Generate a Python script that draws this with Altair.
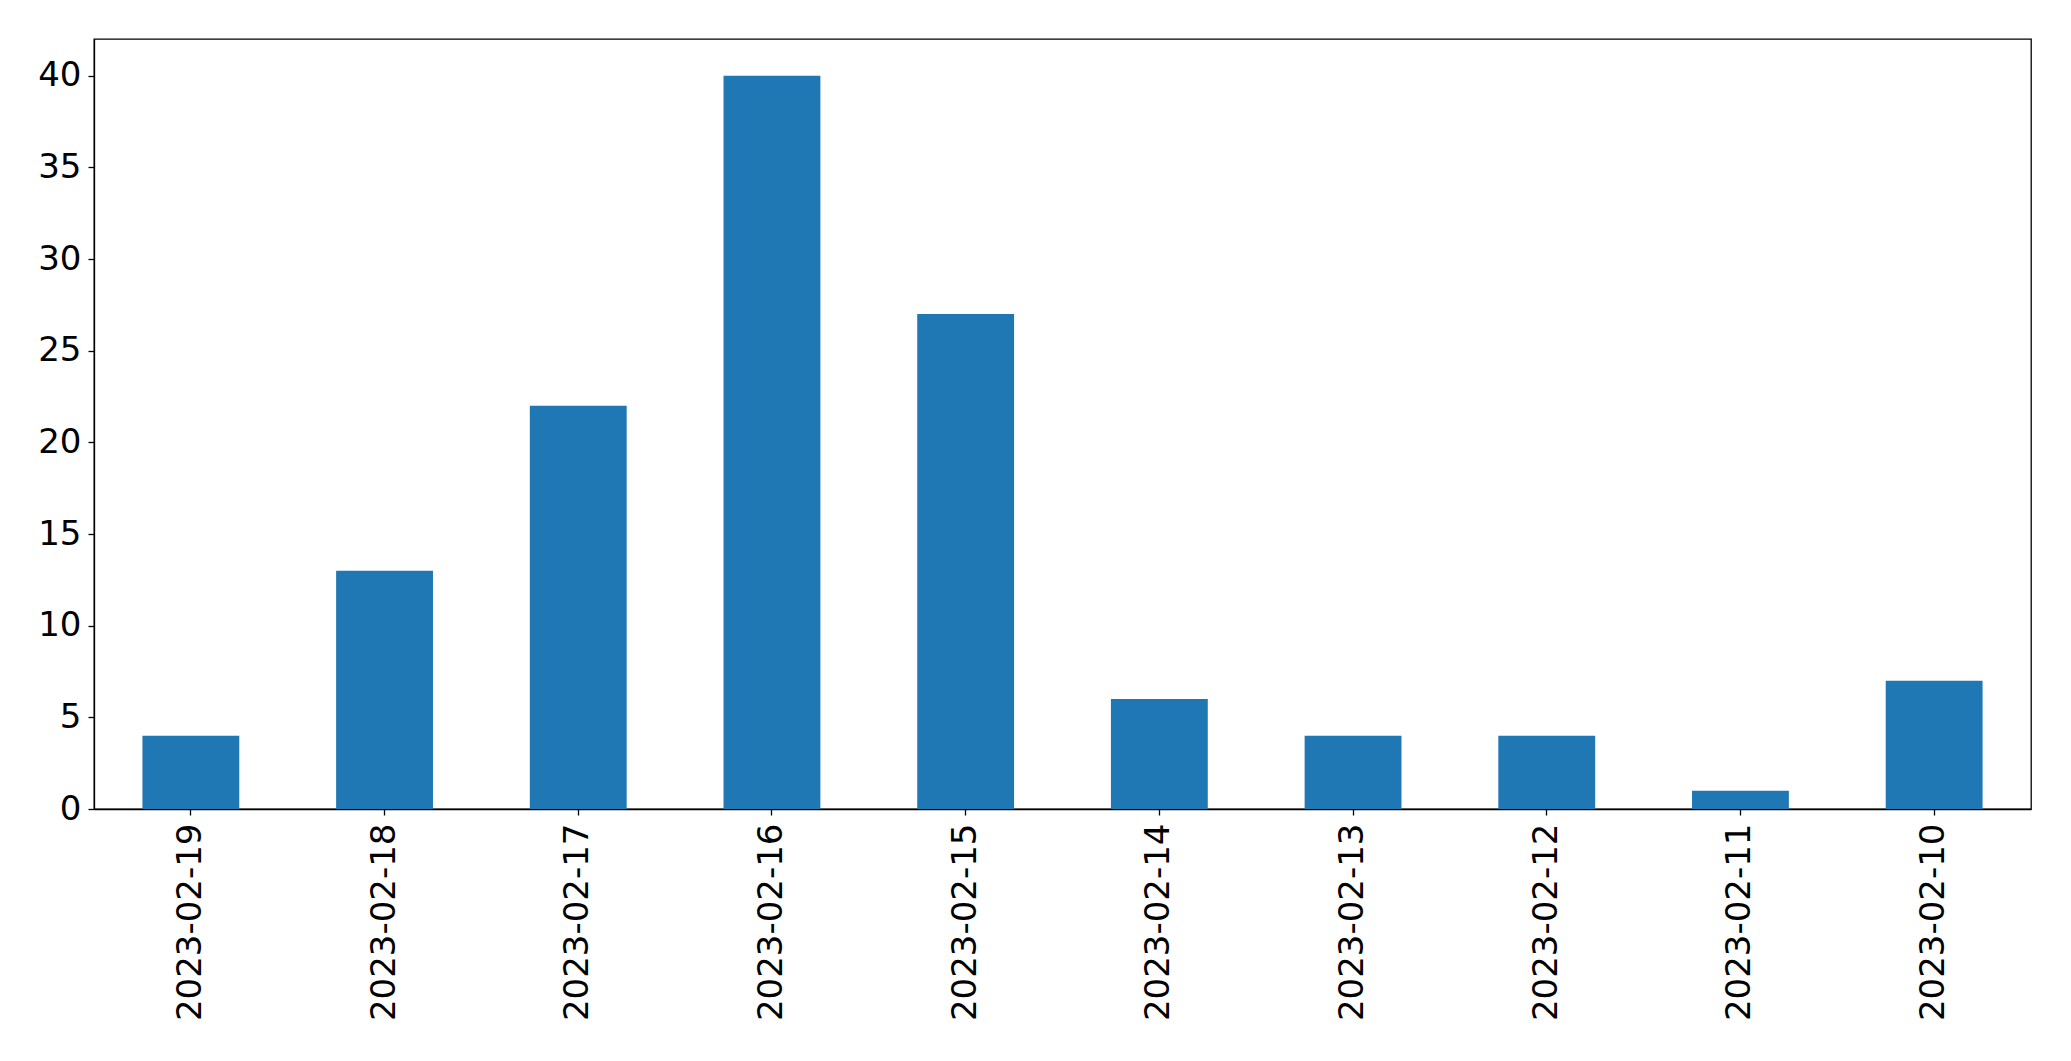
import altair as alt
import pandas as pd

dates = ["2023-02-19", "2023-02-18", "2023-02-17", "2023-02-16", "2023-02-15",
         "2023-02-14", "2023-02-13", "2023-02-12", "2023-02-11", "2023-02-10"]
counts = [4, 13, 22, 40, 27, 6, 4, 4, 1, 7]
y_ticks = [0, 5, 10, 15, 20, 25, 30, 35, 40]

df = pd.DataFrame({"date": dates, "count": counts})

chart = alt.Chart(df).mark_bar(color="#1f77b4").encode(
    x=alt.X("date:N", sort=None, title=None,
            scale=alt.Scale(paddingInner=0.5, paddingOuter=0.25),
            axis=alt.Axis(labelAngle=270, labelAlign="right", labelBaseline="middle",
                          labelPadding=8, tickSize=6, labelFontSize=34, labelLimit=0,
                          labelFont="DejaVu Sans", labelColor="black",
                          domainColor="black", tickColor="black", tickWidth=1.3,
                          domainWidth=1.3, grid=False)),
    y=alt.Y("count:Q", title=None,
            scale=alt.Scale(domain=[0, 42], nice=False),
            axis=alt.Axis(values=y_ticks, labelPadding=7, tickSize=6, labelFontSize=34,
                          labelFont="DejaVu Sans", labelColor="black",
                          domainColor="black", tickColor="black", tickWidth=1.3,
                          domainWidth=1.3, grid=False)),
).properties(
    width=1937, height=770,
    padding={"left": 86, "top": 31, "right": 30, "bottom": 230},
    autosize=alt.AutoSizeParams(type="none"),
).configure(background="white").configure_view(stroke="black", strokeWidth=1.3)

chart.save("out.html", embed_options={"renderer": "svg", "actions": False})
